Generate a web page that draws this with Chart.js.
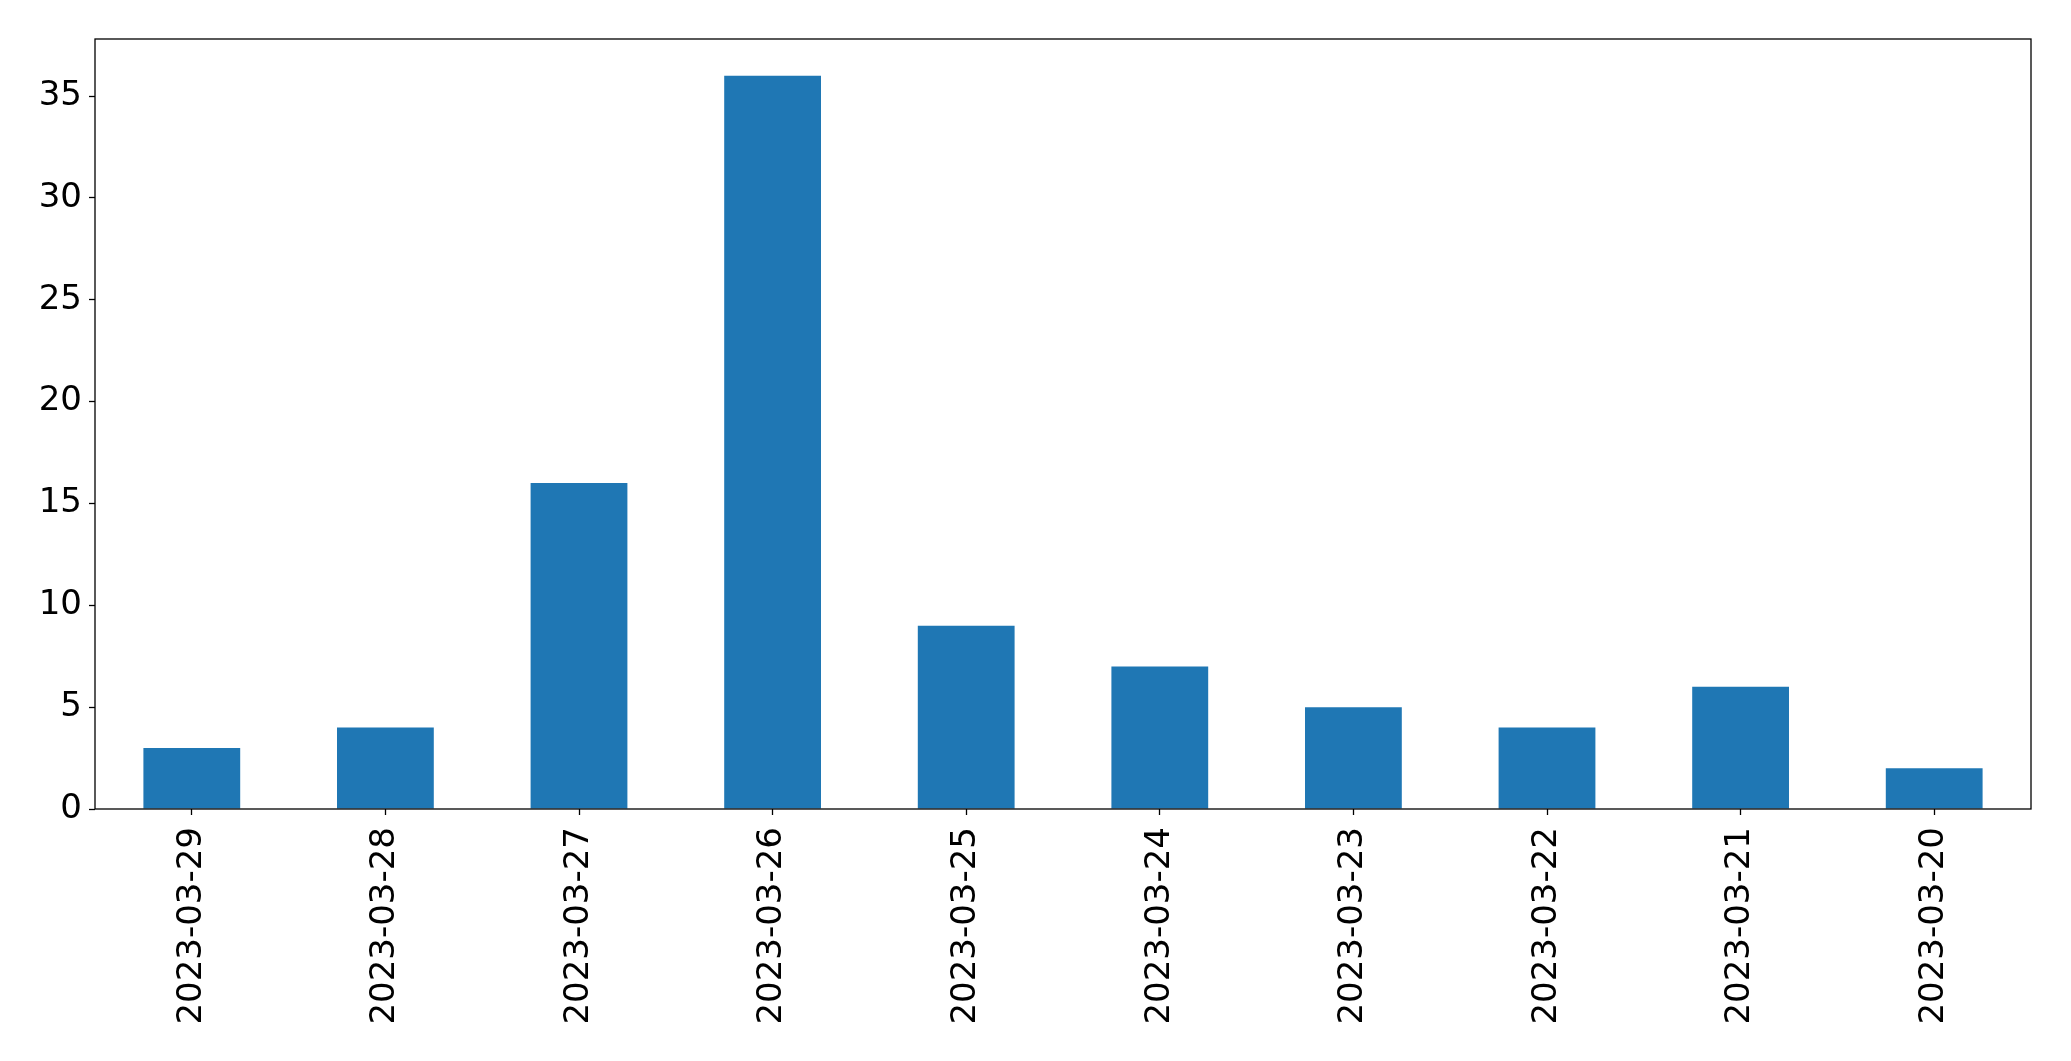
<!DOCTYPE html>
<html>
<head>
<meta charset="utf-8">
<script src="https://cdn.jsdelivr.net/npm/chart.js@4/dist/chart.umd.min.js"></script>
<style>
    html, body { margin: 0; padding: 0; background: #fff; }
    #chart { display: block; }
</style>
</head>
<body>
<canvas id="chart" width="2071" height="1061"></canvas>
<script>
// данные с картинки
const dates = ['2023-03-29', '2023-03-28', '2023-03-27', '2023-03-26', '2023-03-25',
    '2023-03-24', '2023-03-23', '2023-03-22', '2023-03-21', '2023-03-20'];
const counts = [3, 4, 16, 36, 9, 7, 5, 4, 6, 2];
const yTicks = [0, 5, 10, 15, 20, 25, 30, 35];

const fontFamily = 'DejaVu Sans';
const fontSize = 34;

// рамка вокруг области графика (как в matplotlib)
const frameBox = {
    id: 'frameBox',
    afterDatasetsDraw(chart) {
        const {ctx, chartArea} = chart;
        ctx.save();
        ctx.strokeStyle = '#000';
        ctx.lineWidth = 1.3;
        ctx.strokeRect(chartArea.left, chartArea.top, chartArea.right - chartArea.left, chartArea.bottom - chartArea.top);
        ctx.restore();
    }
};

new Chart(document.getElementById('chart'), {
    type: 'bar',
    data: {
        labels: dates,
        datasets: [{
            data: counts,
            backgroundColor: '#1f77b4',
            borderWidth: 0,
            barPercentage: 0.5,
            categoryPercentage: 1.0
        }]
    },
    options: {
        responsive: false,
        animation: false,
        devicePixelRatio: 1,
        layout: {padding: {left: 0, top: 39, right: 40, bottom: 0}},
        plugins: {
            legend: {display: false},
            tooltip: {enabled: false}
        },
        scales: {
            x: {
                offset: true,
                grid: {
                    offset: false,
                    drawOnChartArea: false,
                    drawTicks: true,
                    tickLength: 6,
                    tickWidth: 1.3,
                    color: '#000'
                },
                border: {display: false},
                ticks: {
                    color: '#000',
                    padding: 12,
                    minRotation: 90,
                    maxRotation: 90,
                    autoSkip: false,
                    font: {family: fontFamily, size: fontSize}
                },
                afterFit(scale) {
                    scale.height = 252;
                }
            },
            y: {
                min: 0,
                max: 37.8,
                grid: {
                    drawOnChartArea: false,
                    drawTicks: true,
                    tickLength: 6,
                    tickWidth: 1.3,
                    color: '#000'
                },
                border: {display: false},
                afterBuildTicks(scale) {
                    scale.ticks = yTicks.map(v => ({value: v}));
                },
                ticks: {
                    color: '#000',
                    padding: 7,
                    font: {family: fontFamily, size: fontSize}
                },
                afterFit(scale) {
                    scale.width = 95;
                }
            }
        }
    },
    plugins: [frameBox]
});
</script>
</body>
</html>
